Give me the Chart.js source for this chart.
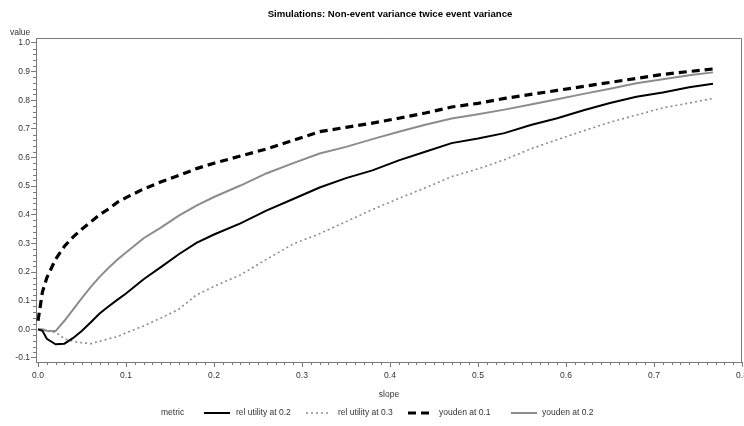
<!DOCTYPE html>
<html>
<head>
<meta charset="utf-8">
<script src="https://cdn.jsdelivr.net/npm/chart.js@4/dist/chart.umd.min.js"></script>
<style>
  html, body { margin: 0; padding: 0; background: #fff; }
  #wrap { width: 744px; height: 426px; }
</style>
</head>
<body>
<div id="wrap"><canvas id="myChart" width="744" height="426"></canvas></div>
<script>
// values
var slopes = [0, 0.005, 0.01, 0.02, 0.03, 0.04, 0.05, 0.06, 0.07, 0.08, 0.09, 0.1,
  0.12, 0.14, 0.16, 0.18, 0.2, 0.23, 0.26, 0.29, 0.32, 0.35, 0.38, 0.41, 0.44,
  0.47, 0.5, 0.53, 0.56, 0.59, 0.62, 0.65, 0.68, 0.71, 0.74, 0.767];

var relUtil02 = [0, -0.005, -0.033, -0.052, -0.05, -0.03, -0.005, 0.025, 0.055, 0.08, 0.103, 0.125,
  0.175, 0.218, 0.262, 0.302, 0.331, 0.37, 0.415, 0.455, 0.495, 0.528, 0.555, 0.59, 0.62,
  0.65, 0.666, 0.685, 0.713, 0.737, 0.765, 0.79, 0.812, 0.827, 0.845, 0.857];

var relUtil03 = [0, -0.003, -0.006, -0.01, -0.033, -0.042, -0.047, -0.05, -0.042, -0.033, -0.026, -0.012,
  0.012, 0.04, 0.07, 0.12, 0.15, 0.19, 0.245, 0.298, 0.334, 0.376, 0.418, 0.457, 0.494,
  0.533, 0.56, 0.592, 0.63, 0.662, 0.693, 0.723, 0.748, 0.773, 0.79, 0.806];

var youden01 = [0.03, 0.13, 0.18, 0.245, 0.29, 0.323, 0.35, 0.375, 0.4, 0.42, 0.443, 0.46,
  0.49, 0.515, 0.537, 0.561, 0.58, 0.605, 0.63, 0.66, 0.69, 0.705, 0.72, 0.737, 0.755,
  0.776, 0.789, 0.806, 0.82, 0.834, 0.848, 0.862, 0.876, 0.89, 0.9, 0.909];

var youden02 = [0, 0, -0.005, -0.006, 0.03, 0.07, 0.11, 0.148, 0.183, 0.214, 0.243, 0.268,
  0.318, 0.356, 0.397, 0.432, 0.462, 0.502, 0.545, 0.58, 0.614, 0.637, 0.664, 0.69, 0.714,
  0.736, 0.751, 0.767, 0.785, 0.803, 0.822, 0.84, 0.859, 0.873, 0.887, 0.897];

var xTicks = [0, 0.1, 0.2, 0.3, 0.4, 0.5, 0.6, 0.7, 0.8];
var yTicks = [-0.1, 0, 0.1, 0.2, 0.3, 0.4, 0.5, 0.6, 0.7, 0.8, 0.9, 1.0];

var seriesNames = ['rel utility at 0.2', 'rel utility at 0.3', 'youden at 0.1', 'youden at 0.2'];

function toPoints(ys) {
  var pts = [];
  for (var i in slopes) {
    pts.push({x: slopes[i], y: ys[i]});
  }
  return pts;
}

var FONT = '"Liberation Sans", Arial, sans-serif';
var TEXT = '#333333';
var AXIS = '#7a7a7a';

// title, axis labels, minor ticks, frame and legend
var sasDecor = {
  id: 'sasDecor',
  afterDraw: function (chart) {
    var ctx = chart.ctx;
    var area = chart.chartArea;
    var xs = chart.scales.x, ys = chart.scales.y;
    ctx.save();

    // top/right frame
    ctx.strokeStyle = AXIS;
    ctx.lineWidth = 1;
    ctx.beginPath();
    ctx.moveTo(area.left, area.top + 0.5);
    ctx.lineTo(area.right - 0.5, area.top + 0.5);
    ctx.lineTo(area.right - 0.5, area.bottom);
    ctx.stroke();

    // minor ticks
    ctx.beginPath();
    for (var k = 1; k < 80; k++) {
      if (k % 10 === 0) continue;
      var px = Math.round(xs.getPixelForValue(k / 100)) + 0.5;
      ctx.moveTo(px, area.bottom);
      ctx.lineTo(px, area.bottom + 3);
    }
    for (var m = -5; m < 50; m++) {
      if (m % 5 === 0) continue;
      var py = Math.round(ys.getPixelForValue(m / 50)) + 0.5;
      ctx.moveTo(area.left, py);
      ctx.lineTo(area.left - 3, py);
    }
    ctx.stroke();

    // title
    ctx.fillStyle = '#000';
    ctx.textAlign = 'center';
    ctx.textBaseline = 'middle';
    ctx.font = 'bold 9.6px ' + FONT;
    ctx.fillText('Simulations: Non-event variance twice event variance', 390, 14);

    // axis labels
    ctx.fillStyle = TEXT;
    ctx.font = '8.5px ' + FONT;
    ctx.textAlign = 'left';
    ctx.fillText('value', 10, 33);
    ctx.textAlign = 'center';
    ctx.fillText('slope', (area.left + area.right) / 2, 395);

    // legend
    var ly = 413;
    ctx.textAlign = 'left';
    ctx.fillText('metric', 161, ly);
    var samples = [[204, 230, 236], [306, 330, 338], [408, 433, 439], [511, 537, 542]];
    var dsets = chart.data.datasets;
    for (var i = 0; i < dsets.length; i++) {
      var s = samples[i];
      var d = dsets[i];
      ctx.save();
      ctx.strokeStyle = d.borderColor;
      ctx.lineWidth = d.borderWidth;
      ctx.setLineDash(d.borderDash || []);
      ctx.beginPath();
      ctx.moveTo(s[0], ly);
      ctx.lineTo(s[1], ly);
      ctx.stroke();
      ctx.restore();
      ctx.fillStyle = TEXT;
      ctx.fillText(d.label, s[2], ly);
    }
    ctx.restore();
  }
};

var chartdata = {
  datasets: [
    {
      label: seriesNames[0],
      data: toPoints(relUtil02),
      borderColor: '#000000',
      borderWidth: 2
    },
    {
      label: seriesNames[1],
      data: toPoints(relUtil03),
      borderColor: '#8c8c8c',
      borderWidth: 1.6,
      borderDash: [2, 3]
    },
    {
      label: seriesNames[2],
      data: toPoints(youden01),
      borderColor: '#000000',
      borderWidth: 3.2,
      borderDash: [8, 5]
    },
    {
      label: seriesNames[3],
      data: toPoints(youden02),
      borderColor: '#8c8c8c',
      borderWidth: 2
    }
  ]
};

var graphTarget = document.getElementById('myChart');

var lineGraph = new Chart(graphTarget, {
  type: 'line',
  data: chartdata,
  plugins: [sasDecor],
  options: {
    responsive: false,
    animation: false,
    events: [],
    layout: { padding: { top: 38, right: 2, left: 0, bottom: 0 } },
    elements: {
      point: { radius: 0 },
      line: { tension: 0, fill: false, borderCapStyle: 'butt' }
    },
    plugins: {
      legend: { display: false },
      title: { display: false },
      tooltip: { enabled: false }
    },
    scales: {
      x: {
        type: 'linear',
        min: -0.0023,
        max: 0.8,
        afterFit: function (scale) {
          scale.height = 64;
          scale.paddingLeft = 0;
          scale.paddingRight = 0;
        },
        afterBuildTicks: function (scale) {
          scale.ticks = xTicks.map(function (v) { return {value: v}; });
        },
        grid: { display: true, drawOnChartArea: false, tickLength: 5, tickColor: AXIS },
        border: { display: true, color: AXIS },
        ticks: {
          padding: 4,
          color: TEXT,
          font: { family: FONT, size: 8.5 },
          maxRotation: 0,
          autoSkip: false,
          callback: function (v) { return v.toFixed(1); }
        }
      },
      y: {
        type: 'linear',
        min: -0.114,
        max: 1.017,
        afterFit: function (scale) {
          scale.width = 36;
          scale.paddingTop = 0;
          scale.paddingBottom = 0;
        },
        afterBuildTicks: function (scale) {
          scale.ticks = yTicks.map(function (v) { return {value: v}; });
        },
        grid: { display: true, drawOnChartArea: false, tickLength: 5, tickColor: AXIS },
        border: { display: true, color: AXIS },
        ticks: {
          padding: 1,
          color: TEXT,
          font: { family: FONT, size: 8.5 },
          autoSkip: false,
          callback: function (v) { return v.toFixed(1); }
        }
      }
    }
  }
});
</script>
</body>
</html>
